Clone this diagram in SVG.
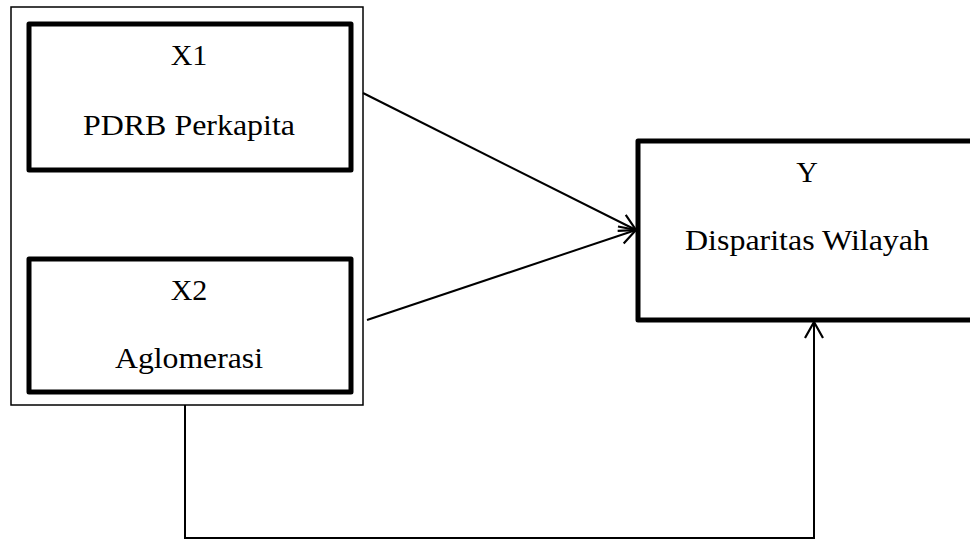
<svg xmlns="http://www.w3.org/2000/svg" width="970" height="540" viewBox="0 0 970 540">
<style>
text{font-family:"Liberation Serif","Times New Roman",serif;font-size:30px;fill:#000;text-anchor:middle}
.thick{fill:#fff;stroke:#000;stroke-width:5;stroke-linejoin:round}
.thin{fill:#fff;stroke:#000;stroke-width:1.5}
.conn{fill:none;stroke:#000;stroke-width:2}
</style>
<defs>
<marker id="arr" markerUnits="userSpaceOnUse" markerWidth="24" markerHeight="24" viewBox="0 0 24 24" refX="18" refY="12" orient="auto">
<path d="M2,3 L18,12 L2,21" fill="none" stroke="#000" stroke-width="2.2"/>
</marker>
</defs>
<g id="group-x">
<rect class="thin" x="11" y="7" width="352" height="398"/>
</g>
<g id="x1">
<rect class="thick" x="29" y="24" width="322" height="146"/>
<text x="189" y="65">X1</text>
<text x="189" y="135" textLength="212" lengthAdjust="spacingAndGlyphs">PDRB Perkapita</text>
</g>
<g id="x2">
<rect class="thick" x="29" y="259" width="322" height="133"/>
<text x="189" y="300">X2</text>
<text x="189" y="368" textLength="148" lengthAdjust="spacingAndGlyphs">Aglomerasi</text>
</g>
<g id="y">
<rect class="thick" x="638" y="141" width="340" height="179"/>
<text x="807" y="182">Y</text>
<text x="807" y="250" textLength="244" lengthAdjust="spacingAndGlyphs">Disparitas Wilayah</text>
</g>
<g id="connectors">
<path class="conn" d="M363,93 L636,230" marker-end="url(#arr)"/>
<path class="conn" d="M367,320 L636,230" marker-end="url(#arr)"/>
<path class="conn" d="M185,405 L185,538 L814,538 L814,322" marker-end="url(#arr)"/>
</g>
</svg>
